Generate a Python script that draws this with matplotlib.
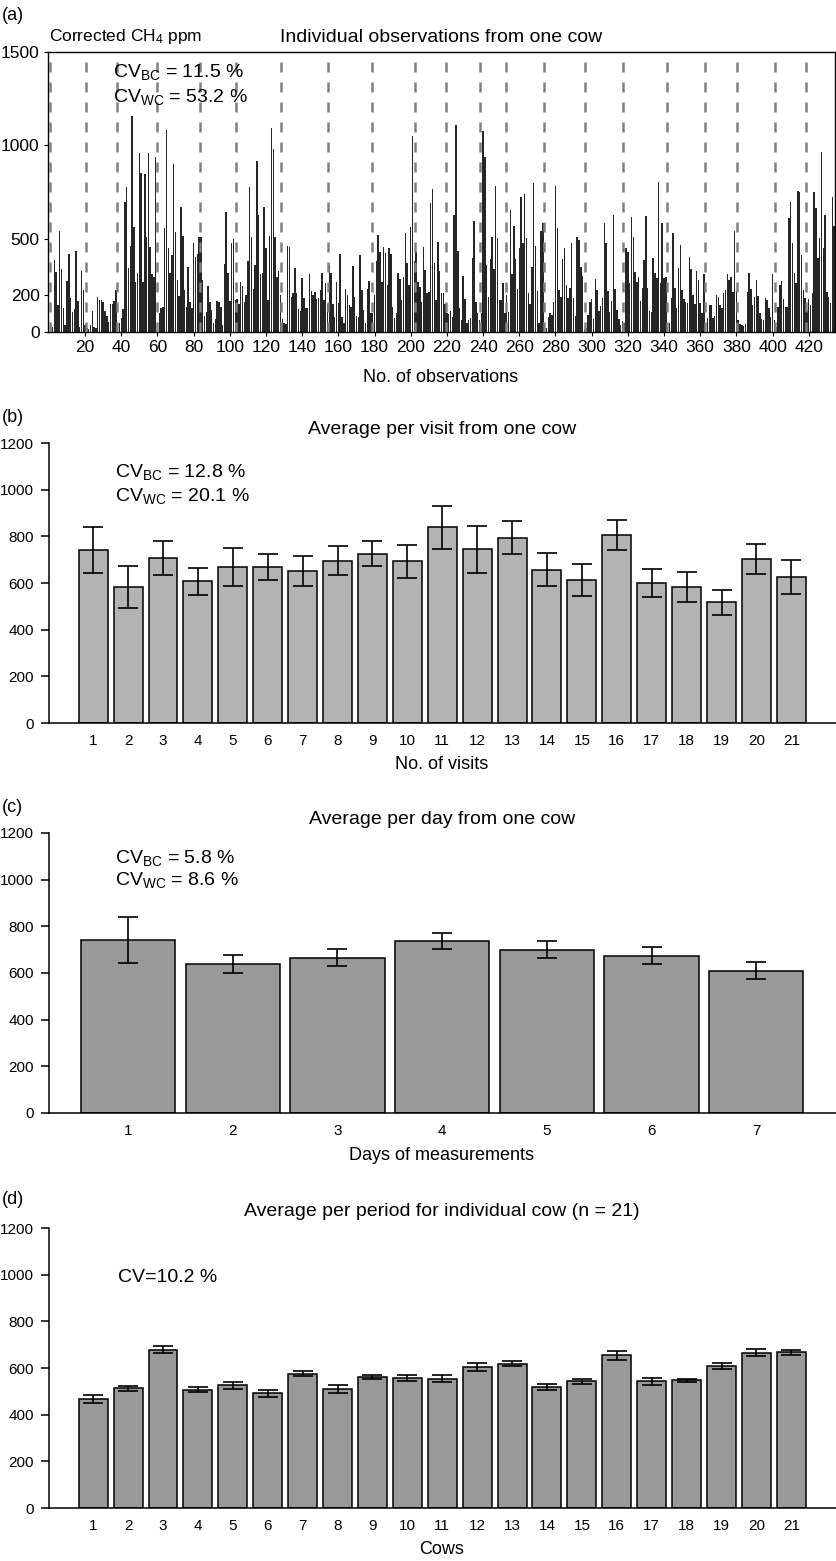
import matplotlib
matplotlib.use('Agg')
import matplotlib.pyplot as plt
import numpy as np

plt.rcParams['font.family'] = ['Liberation Sans', 'DejaVu Sans']
plt.rcParams['mathtext.default'] = 'regular'

# (a) individual observations, one list per visit
visit01 = [30, 25, 385, 320, 145, 540, 340, 127, 40, 273, 416, 184, 109, 123, 434, 164, 29, 327, 223, 40]
visit02 = [20, 15, 40, 110, 25, 20, 190, 170, 172, 160, 110, 85, 55, 150, 148, 165, 225]
visit03 = [29, 46, 73, 123, 698, 775, 341, 463, 1159, 564, 270, 314, 961, 850, 270, 846, 511, 957, 457, 311, 296, 939]
visit04 = [37, 100, 127, 136, 555, 1082, 448, 314, 412, 900, 537, 279, 193, 668, 514, 225, 132, 346, 159, 127, 475, 404, 418, 511]
visit05 = [507, 279, 86, 105, 246, 162, 118, 46, 68, 166, 162, 136, 37, 364, 641, 314, 166, 477, 496, 171]
visit06 = [175, 150, 270, 246, 161, 198, 382, 775, 511, 229, 359, 916, 627, 311, 314, 668, 448, 171, 514, 1091, 982, 507, 296, 327, 200]
visit07 = [70, 46, 43, 463, 454, 189, 211, 341, 211, 121, 113, 291, 180, 127, 127, 311, 221, 198, 216, 177, 180, 225, 314, 171, 264, 150]
visit08 = [359, 318, 150, 82, 270, 157, 418, 82, 46, 230, 198, 145, 132, 355, 189, 86, 82, 412, 225, 118, 50, 229, 273, 100]
visit09 = [100, 198, 380, 520, 430, 270, 457, 421, 252, 452, 418, 136, 73, 100, 314, 284, 171, 293, 532, 371, 252, 561, 1050, 380]
visit10 = [430, 270, 243, 162, 457, 332, 207, 216, 689, 764, 368, 171, 484, 329, 207, 211, 150]
visit11 = [100, 96, 113, 82, 627, 1109, 436, 127, 64, 300, 177, 50, 64, 73, 395, 595, 162, 100, 64]
visit12 = [100, 1079, 939, 359, 189, 391, 507, 337, 784, 505, 171, 171, 261, 100]
visit13 = [200, 109, 654, 311, 568, 389, 230, 448, 725, 475, 737, 505, 207, 150, 350, 800, 463, 221, 46, 541, 586]
visit14 = [29, 23, 79, 104, 91, 162, 782, 555, 225, 189, 389, 452, 252, 180, 238, 479, 180, 86, 511, 493, 350, 300, 16]
visit15 = [20, 91, 162, 175, 68, 282, 225, 113, 141, 180, 582, 479, 221, 109, 166, 627, 229, 118, 68, 40, 60]
visit16 = [50, 448, 427, 264, 618, 511, 323, 270, 296, 168, 234, 386, 621, 234, 114, 105, 395, 318, 287, 805, 264, 586, 287, 296]
visit17 = [43, 46, 180, 532, 234, 127, 341, 466, 225, 175, 162, 157, 404, 336, 198, 150, 329, 279, 154, 104, 311]
visit18 = [25, 73, 145, 145, 73, 86, 198, 189, 145, 127, 207, 225, 309, 279, 296, 216, 541, 221]
visit19 = [64, 43, 37, 32, 43, 216, 314, 229, 145, 189, 279, 195, 100, 68, 64, 180, 171, 127, 82, 311, 64]
visit20 = [29, 136, 252, 273, 175, 136, 136, 609, 695, 475, 318, 261, 757, 752, 412, 225, 180]
visit21 = [120, 177, 145, 211, 752, 663, 395, 502, 963, 448, 627, 216, 189, 154, 725, 568]
visits = [visit01, visit02, visit03, visit04, visit05, visit06, visit07, visit08, visit09, visit10,
          visit11, visit12, visit13, visit14, visit15, visit16, visit17, visit18, visit19, visit20, visit21]

# (b) average per visit
visit_mean = [740, 584, 707, 607, 669, 669, 651, 696, 726, 693, 839, 744, 795, 657, 613, 804, 601, 583, 517, 704, 626]
visit_err = [98, 90, 72, 58, 83, 55, 63, 62, 52, 70, 93, 101, 72, 70, 68, 64, 59, 65, 52, 65, 72]

# (c) average per day
day_mean = [742, 638, 665, 737, 700, 675, 610]
day_err = [97, 40, 36, 33, 37, 37, 36]

# (d) average per period per cow
cow_mean = [466, 513, 679, 507, 527, 491, 576, 510, 560, 557, 553, 603, 619, 519, 544, 654, 544, 547, 608, 666, 667]
cow_err = [18, 11, 15, 10, 15, 15, 11, 16, 8, 12, 15, 17, 11, 12, 11, 19, 15, 8, 13, 14, 10]

W, H = 837, 1561


def box(l, r, t, b):
    return [l / W, 1 - b / H, (r - l) / W, (b - t) / H]


def txt(x, y, s, size, ha='left'):
    fig.text(x / W, 1 - y / H, s, fontsize=size, ha=ha, va='center')


fig = plt.figure(figsize=(W / 100, H / 100), dpi=100)

# ---- panel (a)
obs = np.concatenate(visits)
ax = fig.add_axes(box(48, 835, 52, 332))
ax.bar(np.arange(1, len(obs) + 1), obs, width=0.8, color='#262626', linewidth=0)
edges = np.concatenate([[0], np.cumsum([len(v) for v in visits])[:-1]])
for e in edges:
    ax.axvline(e + 0.5, color='#808080', lw=1.8, ls=(0, (4, 4)), zorder=3)
ax.set_xlim(-0.5, 434.5)
ax.set_ylim(0, 1500)
ax.set_yticks([0, 200, 500, 1000, 1500])
ax.set_xticks(range(20, 421, 20))
ax.tick_params(labelsize=12.5, length=3, width=0.8, pad=3)
for sp in ax.spines.values():
    sp.set_linewidth(1.0)

txt(2, 15, '(a)', 13)
txt(49, 37, 'Corrected CH$_4$ ppm', 12.5)
txt(441, 38, 'Individual observations from one cow', 14, 'center')
txt(113, 72, 'CV$_{BC}$ = 11.5 %', 14)
txt(113, 97, 'CV$_{WC}$ = 53.2 %', 14)
txt(441, 377, 'No. of observations', 13, 'center')


def bar_panel(top, means, errs, color, width, xlim):
    ax = fig.add_axes(box(49, 836, top, top + 280))
    pos = np.arange(1, len(means) + 1)
    ax.bar(pos, means, width=width, color=color, edgecolor='black', linewidth=1.1)
    ax.errorbar(pos, means, yerr=errs, fmt='none', ecolor='black', elinewidth=1.2,
                capsize=7.2, capthick=1.2)
    ax.set_xlim(xlim)
    ax.set_ylim(0, 1200)
    ax.set_yticks(range(0, 1201, 200))
    ax.set_xticks(pos)
    ax.spines['top'].set_visible(False)
    ax.spines['right'].set_visible(False)
    ax.spines['left'].set_linewidth(1.1)
    ax.spines['bottom'].set_linewidth(1.1)
    ax.tick_params(axis='y', length=6, width=1.1, labelsize=11, pad=5)
    ax.tick_params(axis='x', length=0, labelsize=11, pad=8)
    return ax


# ---- panel (b)
bar_panel(443, visit_mean, visit_err, '#b3b3b3', 0.83, (-0.266, 22.28))
txt(2, 418, '(b)', 13)
txt(442, 429, 'Average per visit from one cow', 14, 'center')
txt(115, 472, 'CV$_{BC}$ = 12.8 %', 14)
txt(115, 496, 'CV$_{WC}$ = 20.1 %', 14)
txt(442, 765, 'No. of visits', 13, 'center')

# ---- panel (c)
bar_panel(833, day_mean, day_err, '#999999', 0.9, (0.245, 7.762))
txt(2, 808, '(c)', 13)
txt(442, 820, 'Average per day from one cow', 14, 'center')
txt(115, 858, 'CV$_{BC}$ = 5.8 %', 14)
txt(115, 880, 'CV$_{WC}$ = 8.6 %', 14)
txt(442, 1155, 'Days of measurements', 13, 'center')

# ---- panel (d)
bar_panel(1228, cow_mean, cow_err, '#999999', 0.83, (-0.266, 22.28))
txt(2, 1199, '(d)', 13)
txt(442, 1212, 'Average per period for individual cow (n = 21)', 14, 'center')
txt(118, 1277, 'CV=10.2 %', 14)
txt(442, 1550, 'Cows', 13, 'center')

fig.savefig('out.png', dpi=100)
